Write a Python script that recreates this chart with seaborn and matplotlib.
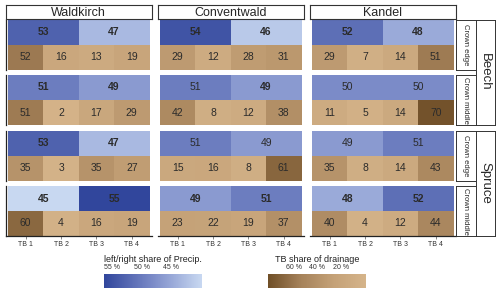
import matplotlib.pyplot as plt
import matplotlib.colors as mcolors
import matplotlib.cm as cm
import numpy as np
import pandas as pd
import seaborn as sns

#%% Data
sites = ['Waldkirch', 'Conventwald', 'Kandel']
species = ['Beech', 'Spruce']
positions = ['Crown edge', 'Crown middle']
tb_labels = ['TB 1', 'TB 2', 'TB 3', 'TB 4']

# rows: Beech edge, Beech middle, Spruce edge, Spruce middle ; columns: sites
precip_left = [[53, 54, 52], [51, 51, 50], [53, 51, 49], [45, 49, 48]]
precip_right = [[47, 46, 48], [49, 49, 50], [47, 49, 51], [55, 51, 52]]
bold_left = [[1, 1, 1], [1, 0, 0], [1, 0, 0], [1, 1, 1]]
bold_right = [[1, 1, 1], [1, 1, 0], [1, 0, 0], [1, 1, 1]]

# TB share of drainage (%)
drainage = [
    [[52, 16, 13, 19], [29, 12, 28, 31], [29, 7, 14, 51]],
    [[51, 2, 17, 29], [42, 8, 12, 38], [11, 5, 14, 70]],
    [[35, 3, 35, 27], [15, 16, 8, 61], [35, 8, 14, 43]],
    [[60, 4, 16, 19], [23, 22, 19, 37], [40, 4, 12, 44]],
]

precip_ticks = [55, 50, 45]
drain_ticks = [60, 40, 20]

#%% Colours
blue_cmap = mcolors.LinearSegmentedColormap.from_list('precip', ['#c8d8f1', '#7b8bc8', '#31469c'])
brown_cmap = mcolors.LinearSegmentedColormap.from_list('drain', ['#d5b48a', '#c4a177', '#a5825a', '#6f4e27'])

sns.set_style('white')
plt.rcParams['font.family'] = ['Liberation Sans', 'DejaVu Sans']

W, H = 500, 293
fig = plt.figure(figsize=(5, 2.93), dpi=100)


def box(x0, y0, x1, y1):
    return [x0 / W, 1 - y1 / H, (x1 - x0) / W, (y1 - y0) / H]


tile_x0 = [8, 160, 312]
tile_w = 141.5
row_top = [19.5, 75, 130.5, 186]
row_h = 50
pad_l, pad_r = 2.5, 2.0
unit = tile_w / 4

text_col = '#2b2b2b'

for r in range(4):
    for c in range(3):
        x0 = tile_x0[c] - pad_l
        x1 = tile_x0[c] + tile_w + pad_r
        ax = fig.add_axes(box(x0, row_top[r], x1, row_top[r] + row_h))
        L, R = precip_left[r][c], precip_right[r][c]
        df = pd.DataFrame([[L, L, R, R], drainage[r][c]], columns=tb_labels, dtype=float)
        top_mask = np.array([[False] * 4, [True] * 4])
        sns.heatmap(df, mask=top_mask, cmap=blue_cmap, vmin=45, vmax=55, cbar=False,
                    xticklabels=False, yticklabels=False, ax=ax)
        sns.heatmap(df, mask=~top_mask, cmap=brown_cmap, vmin=0, vmax=72, cbar=False,
                    annot=True, fmt='.0f', annot_kws={'color': text_col, 'fontsize': 7.5},
                    xticklabels=False, yticklabels=False, ax=ax)
        ax.text(1, 0.5, str(L), ha='center', va='center', fontsize=7.5, color=text_col,
                fontweight='bold' if bold_left[r][c] else 'normal')
        ax.text(3, 0.5, str(R), ha='center', va='center', fontsize=7.5, color=text_col,
                fontweight='bold' if bold_right[r][c] else 'normal')
        ax.set_xlim(-pad_l / unit, 4 + pad_r / unit)
        ax.set_ylim(2, 0)
        ax.set_xlabel('')
        ax.set_ylabel('')
        if c == 0:
            ax.spines['left'].set_visible(True)
            ax.spines['left'].set_linewidth(0.9)
            ax.spines['left'].set_color('#222222')
        if r == 3:
            ax.spines['bottom'].set_visible(True)
            ax.spines['bottom'].set_linewidth(0.9)
            ax.spines['bottom'].set_color('#222222')
            ax.set_xticks([0.5, 1.5, 2.5, 3.5])
            ax.set_xticklabels(tb_labels, fontsize=5, color='#333333')
            ax.tick_params(axis='x', length=2, width=0.5, color='#555555', pad=1.5, bottom=True)
        else:
            ax.set_xticks([])
        ax.set_yticks([])

        # site strip on top
        if r == 0:
            sax = fig.add_axes(box(x0, 5, x1, 19))
            sax.set_xticks([])
            sax.set_yticks([])
            for sp in sax.spines.values():
                sp.set_visible(True)
                sp.set_linewidth(0.8)
                sp.set_color('#333333')
            sax.text(0.5, 0.45, sites[c], ha='center', va='center', fontsize=9,
                     transform=sax.transAxes)

    # position strip on the right
    pax = fig.add_axes(box(456, row_top[r], 475.5, row_top[r] + row_h))
    pax.set_xticks([])
    pax.set_yticks([])
    for sp in pax.spines.values():
        sp.set_visible(True)
        sp.set_linewidth(0.7)
        sp.set_color('#333333')
    pax.text(0.5, 0.5, positions[r % 2], rotation=270, ha='center', va='center',
             fontsize=5.5, transform=pax.transAxes)

# species strips
for s in range(2):
    gax = fig.add_axes(box(475.5, row_top[2 * s], 495, row_top[2 * s + 1] + row_h))
    gax.set_xticks([])
    gax.set_yticks([])
    for sp in gax.spines.values():
        sp.set_visible(True)
        sp.set_linewidth(0.7)
        sp.set_color('#333333')
    gax.text(0.5, 0.5, species[s], rotation=270, ha='center', va='center',
             fontsize=9.5, transform=gax.transAxes)

#%% Colour bars
def add_bar(x0, x1, vlo, vhi, cmap, tick_vals, title):
    cax = fig.add_axes(box(x0, 274, x1, 287.5))
    sm = cm.ScalarMappable(norm=mcolors.Normalize(vlo, vhi), cmap=cmap)
    cb = fig.colorbar(sm, cax=cax, orientation='horizontal')
    cb.outline.set_visible(False)
    cax.invert_xaxis()
    cax.xaxis.set_ticks_position('top')
    cb.set_ticks(tick_vals)
    cb.set_ticklabels([f'{v} %' for v in tick_vals])
    cax.tick_params(axis='x', length=0, labelsize=5, pad=2, colors='#333333')
    cax.set_title(title, fontsize=6.5, pad=9, color='#222222')


add_bar(104, 202, 39.7, 56.45, blue_cmap, precip_ticks, 'left/right share of Precip.')
add_bar(268, 366, -1.3, 82.1, brown_cmap, drain_ticks, 'TB share of drainage')

fig.savefig('out.png', dpi=100)
